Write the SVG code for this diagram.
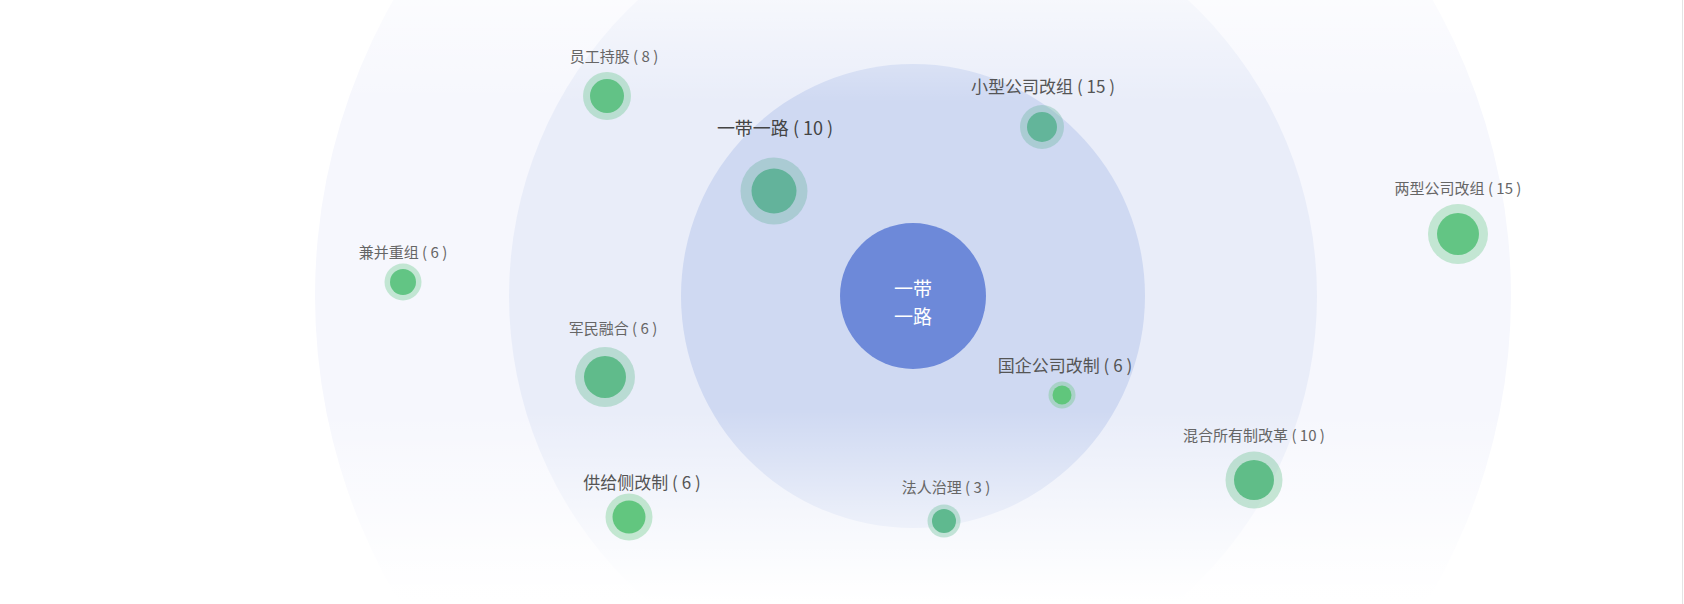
<svg xmlns="http://www.w3.org/2000/svg" width="1684" height="604" viewBox="0 0 1684 604">
<style>
text{font-family:"Noto Sans CJK SC","Noto Sans",sans-serif;text-anchor:middle;dominant-baseline:central}
.lbl{fill:#666;font-size:15px}
.lbl-m{fill:#555;font-size:17px}
.lbl-l{fill:#444;font-size:18px}
.ctr{fill:#fff;font-size:19px}
.halo{fill-opacity:0.35}
</style>
<defs>
<linearGradient id="fade" gradientUnits="userSpaceOnUse" x1="0" y1="0" x2="0" y2="604">
<stop offset="0" stop-color="#fff" stop-opacity="0.6"/>
<stop offset="0.17" stop-color="#fff" stop-opacity="0"/>
<stop offset="0.68" stop-color="#fff" stop-opacity="0"/>
<stop offset="0.97" stop-color="#fff" stop-opacity="0.95"/>
<stop offset="1" stop-color="#fff" stop-opacity="1"/>
</linearGradient>
</defs>
<rect width="1684" height="604" fill="#fff"/>
<g id="rings">
<circle cx="913" cy="296" r="598" fill="#f6f7fd"/>
<circle cx="913" cy="296" r="404" fill="#e9edf9"/>
<circle cx="913" cy="296" r="232" fill="#cfd9f2"/>
<rect width="1684" height="604" fill="url(#fade)"/>
</g>
<line x1="1682.5" y1="0" x2="1682.5" y2="604" stroke="#e4e4e4" stroke-width="1"/>
<g id="connectors"/>
<g id="center">
<circle cx="913" cy="296" r="73" fill="#6d89d9"/>
<text class="ctr" x="913" y="287">一带</text>
<text class="ctr" x="913" y="315">一路</text>
</g>
<g id="node-yggc">
<circle class="halo" cx="607" cy="96" r="24" fill="#62c286"/>
<circle cx="607" cy="96" r="17" fill="#62c286"/>
<text class="lbl" x="614" y="55">员工持股 ( 8 )</text>
</g>
<g id="node-ydyl">
<circle class="halo" cx="774" cy="191" r="33.5" fill="#63b39b"/>
<circle cx="774" cy="191" r="22.5" fill="#63b39b"/>
<text class="lbl-l" x="775" y="127">一带一路 ( 10 )</text>
</g>
<g id="node-xxgs">
<circle class="halo" cx="1042" cy="127" r="22" fill="#63b59a"/>
<circle cx="1042" cy="127" r="15" fill="#63b59a"/>
<text class="lbl-m" x="1043" y="85">小型公司改组 ( 15 )</text>
</g>
<g id="node-lxgs">
<circle class="halo" cx="1458" cy="234" r="30" fill="#63c584"/>
<circle cx="1458" cy="234" r="21" fill="#63c584"/>
<text class="lbl" x="1458" y="187">两型公司改组 ( 15 )</text>
</g>
<g id="node-jbcz">
<circle class="halo" cx="403" cy="282" r="18.5" fill="#62c584"/>
<circle cx="403" cy="282" r="13" fill="#62c584"/>
<text class="lbl" x="403" y="251">兼并重组 ( 6 )</text>
</g>
<g id="node-jmrh">
<circle class="halo" cx="605" cy="377" r="30" fill="#60bb8b"/>
<circle cx="605" cy="377" r="21" fill="#60bb8b"/>
<text class="lbl" x="613" y="327">军民融合 ( 6 )</text>
</g>
<g id="node-gqgs">
<circle class="halo" cx="1062" cy="395" r="13.5" fill="#60c67c"/>
<circle cx="1062" cy="395" r="9.5" fill="#60c67c"/>
<text class="lbl-m" x="1065" y="364">国企公司改制 ( 6 )</text>
</g>
<g id="node-hhsy">
<circle class="halo" cx="1254" cy="480" r="28.5" fill="#60bd88"/>
<circle cx="1254" cy="480" r="20" fill="#60bd88"/>
<text class="lbl" x="1254" y="434">混合所有制改革 ( 10 )</text>
</g>
<g id="node-gjc">
<circle class="halo" cx="629" cy="517" r="23.5" fill="#62c67f"/>
<circle cx="629" cy="517" r="16.5" fill="#62c67f"/>
<text class="lbl-m" x="642" y="481">供给侧改制 ( 6 )</text>
</g>
<g id="node-frzl">
<circle class="halo" cx="944" cy="521" r="16.5" fill="#5fb98f"/>
<circle cx="944" cy="521" r="12" fill="#5fb98f"/>
<text class="lbl" x="946" y="486">法人治理 ( 3 )</text>
</g>
</svg>
